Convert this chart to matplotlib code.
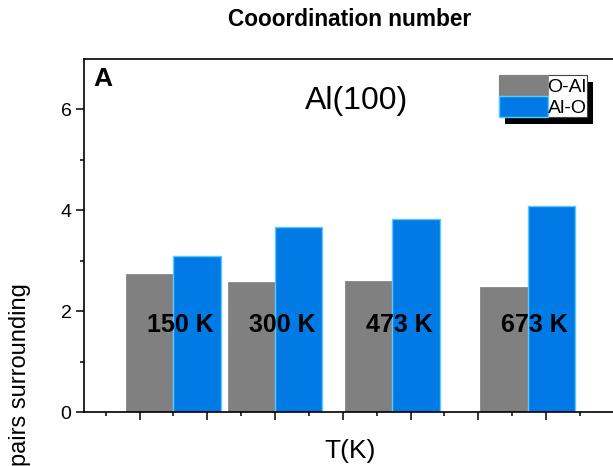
import matplotlib
matplotlib.use("Agg")
import matplotlib.pyplot as plt
from matplotlib.patches import Rectangle
from matplotlib.transforms import IdentityTransform
import numpy as np

plt.rcParams['font.family'] = ['Liberation Sans', 'DejaVu Sans']

# Data
temps = [150, 300, 473, 673]          # K
temp_labels = ["150 K", "300 K", "473 K", "673 K"]
o_al = [2.74, 2.59, 2.61, 2.49]       # O-Al coordination
al_o = [3.10, 3.68, 3.82, 4.09]       # Al-O coordination

W, H = 613, 466
fig = plt.figure(figsize=(W / 100, H / 100), dpi=100)

# axes runs past the right edge (cropped panel)
x0, x1 = 18, 850
scale = 0.6775  # px per K
left_px, bot_px, top_px = 84, 412.3, 59
ax = fig.add_axes([left_px / W, (H - bot_px) / H,
                   (x1 - x0) * scale / W, (bot_px - top_px) / H])

bw = 70
t = np.array(temps)
ax.bar(t - bw / 2, o_al, width=bw, color='#808080', edgecolor='#888888',
       linewidth=0.6, label='O-Al')
ax.bar(t + bw / 2, al_o, width=bw, color='#007be6', edgecolor='#5cc8ff',
       linewidth=1.0, label='Al-O')

for ti, lab in zip(temps, temp_labels):
    ax.text(ti + 10, 1.72, lab, ha='center', va='center',
            fontsize=18, fontweight='bold', color='black')

ax.set_xlim(x0, x1)
ax.set_ylim(0, 7)
ax.set_xticks(np.arange(100, 801, 100))
ax.set_xticks(np.arange(50, 801, 50), minor=True)
ax.set_xticklabels([])
ax.set_yticks([0, 2, 4, 6])
ax.set_yticks([1, 3, 5], minor=True)
ax.tick_params(axis='both', which='major', direction='out', length=6,
               width=1.1, labelsize=14, pad=3)
ax.tick_params(axis='both', which='minor', direction='out', length=3,
               width=1.1)
for s in ax.spines.values():
    s.set_linewidth(1.2)

ax.text(93 / W, 1 - 79 / H, "A", transform=fig.transFigure, ha='left',
        va='center', fontsize=19, fontweight='bold')
fig.text(357 / W, 1 - 101 / H, "Al(100)", ha='center', va='center', fontsize=23)
fig.text(350 / W, 1 - 20 / H, "Cooordination number", ha='center',
         va='center', fontsize=16.3, fontweight='bold')
fig.text(350 / W, 1 - 451 / H, "T(K)", ha='center', va='center', fontsize=19)
fig.text(20 / W, 1 - 283 / H, "pairs surrounding", rotation=90,
         ha='center', va='top', fontsize=17)

leg = ax.legend(loc='upper left', bbox_to_anchor=(499 / W, 1 - 75 / H),
                bbox_transform=fig.transFigure, fontsize=14, frameon=True,
                fancybox=False, borderpad=0, labelspacing=0, handletextpad=0,
                handlelength=2.5, handleheight=1.3, borderaxespad=0)
leg.get_frame().set_edgecolor('#444444')
leg.get_frame().set_linewidth(0.8)
leg.get_frame().set_facecolor('white')
leg.get_frame().set_alpha(1)

# black drop shadow behind legend
fig.canvas.draw()
bb = leg.get_window_extent()
shadow = Rectangle((bb.x0 + 6, bb.y0 - 7), bb.width, bb.height,
                   transform=IdentityTransform(), facecolor='black',
                   edgecolor='none', zorder=4.9, clip_on=False)
ax.add_patch(shadow)

fig.savefig("out.png", dpi=100)
